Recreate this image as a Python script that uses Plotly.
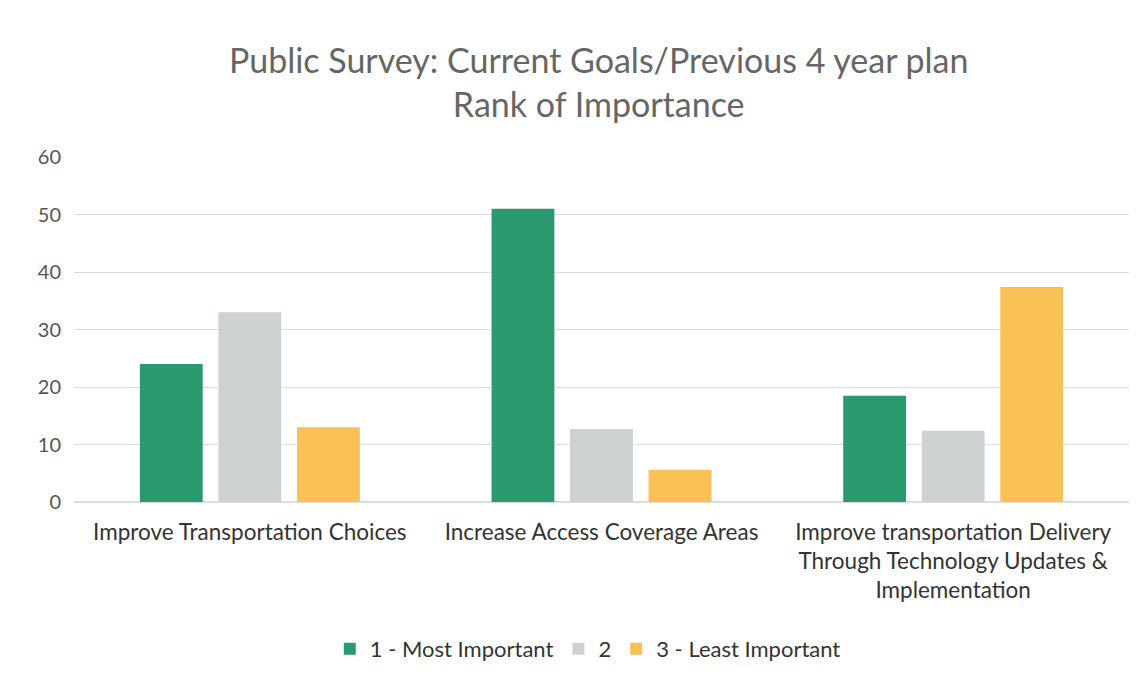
import plotly.graph_objects as go

categories = [
    "Improve Transportation Choices",
    "Increase Access Coverage Areas",
    "Improve transportation Delivery<br>Through Technology Updates &<br>Implementation",
]
series_names = ["1 - Most Important", "2", "3 - Least Important"]
most_important = [24, 51, 18.5]
rank_two = [33, 12.7, 12.4]
least_important = [13, 5.6, 37.4]
y_ticks = [0, 10, 20, 30, 40, 50, 60]

colors = ["#2a9a6e", "#cdd2d1", "#f8c055"]

fig = go.Figure()
for name, vals, col in zip(series_names, [most_important, rank_two, least_important], colors):
    fig.add_trace(go.Bar(x=categories, y=vals, name=name, marker=dict(color=col, line=dict(width=0))))

fig.update_layout(
    width=1147, height=682,
    paper_bgcolor="white", plot_bgcolor="white",
    font=dict(family="Lato, Open Sans, sans-serif", color="#444444"),
    title=dict(
        text="Public Survey: Current Goals/Previous 4 year plan<br>Rank of Importance",
        x=0.515, xanchor="center", y=0.905, yanchor="top",
        font=dict(size=34, color="#666666"),
    ),
    margin=dict(l=66, r=26, t=149, b=188),
    barmode="group", bargap=0.33, bargroupgap=0.2,
    legend=dict(orientation="h", x=0.487, xanchor="center", y=-0.365, yanchor="top",
                font=dict(size=22, color="#333333"), traceorder="normal"),
    showlegend=True,
)
fig.update_yaxes(range=[0, 60], tickvals=y_ticks, showgrid=True, gridcolor="#dddddd",
                 gridwidth=1, zeroline=True, zerolinecolor="#dddddd", showline=False,
                 tickfont=dict(size=20, color="#555555"), ticklabelstandoff=12)
fig.update_xaxes(showline=False, tickfont=dict(size=22.5, color="#333333"), ticks="",
                 ticklabelstandoff=14)

fig.write_html("out.html")
